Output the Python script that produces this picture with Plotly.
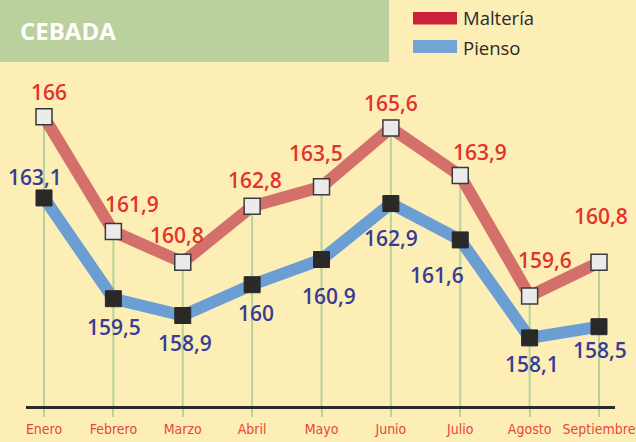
import plotly.graph_objects as go

# ---- data ----
months = ["Enero", "Febrero", "Marzo", "Abril", "Mayo", "Junio", "Julio", "Agosto", "Septiembre"]
malteria = [166, 161.9, 160.8, 162.8, 163.5, 165.6, 163.9, 159.6, 160.8]
pienso = [163.1, 159.5, 158.9, 160, 160.9, 162.9, 161.6, 158.1, 158.5]
series_names = ["Maltería", "Pienso"]
title_text = "CEBADA"

# ---- label placement (pixel offsets from each marker) ----
malt_off = [(5, -25), (19, -28), (-6, -27), (3, -26), (-6, -34), (0, -25), (20, -24), (15, -36), (2, -46)]
pienso_off = [(-9, -21), (1, 28), (2, 27), (4, 28), (7, 36), (0, 34), (-23, 35), (2, 26), (1, 23)]

W, H = 636, 442
ML, MR, MT, MB = 26, 21, 0, 36
BG = "#fdeeb6"
GREEN = "#bbd19d"
GRID = "#b5d39a"
MALT_LINE = "#d4706a"
PIENSO_LINE = "#6b9fd3"
MALT_TXT = "#e2332e"
PIENSO_TXT = "#383c95"
TICK_TXT = "#e8453c"

pw, ph = W - ML - MR, H - MT - MB


def px(x):
    return (x - ML) / pw


def py(y):
    return (H - MB - y) / ph


def fmt(v):
    return f"{v:g}".replace(".", ",")


fig = go.Figure()

# vertical guide lines from the upper marker down to the axis
ymin = 155.667
gx, gy = [], []
for m, a, b in zip(months, malteria, pienso):
    gx += [m, m, None]
    gy += [max(a, b), ymin, None]
fig.add_trace(go.Scatter(x=gx, y=gy, mode="lines", line=dict(color=GRID, width=2),
                         hoverinfo="skip", showlegend=False))

fig.add_trace(go.Scatter(
    x=months, y=pienso, mode="lines+markers", name=series_names[1],
    line=dict(color=PIENSO_LINE, width=12),
    marker=dict(symbol="square", size=16, color="#2b2828", line=dict(color="#2b2828", width=1)),
    showlegend=False))
fig.add_trace(go.Scatter(
    x=months, y=malteria, mode="lines+markers", name=series_names[0],
    line=dict(color=MALT_LINE, width=12),
    marker=dict(symbol="square", size=16, color="#ebebeb", line=dict(color="#3a3a3a", width=1.5)),
    showlegend=False))

annotations = []
for m, v, (dx, dy) in zip(months, malteria, malt_off):
    annotations.append(dict(x=m, y=v, xref="x", yref="y", text=fmt(v), showarrow=False,
                            xshift=dx, yshift=-dy, xanchor="center", yanchor="middle",
                            font=dict(family="Open Sans", size=21, weight=600, color=MALT_TXT)))
for m, v, (dx, dy) in zip(months, pienso, pienso_off):
    annotations.append(dict(x=m, y=v, xref="x", yref="y", text=fmt(v), showarrow=False,
                            xshift=dx, yshift=-dy, xanchor="center", yanchor="middle",
                            font=dict(family="Open Sans", size=21, weight=600, color=PIENSO_TXT)))

# header title
annotations.append(dict(x=px(18), y=py(31), xref="paper", yref="paper", text=f"<b>{title_text}</b>",
                        showarrow=False, xanchor="left", yanchor="middle",
                        font=dict(family="Open Sans", size=24, color="white")))
# legend texts
annotations.append(dict(x=px(461), y=py(18), xref="paper", yref="paper", text=series_names[0],
                        showarrow=False, xanchor="left", yanchor="middle",
                        font=dict(family="Open Sans", size=18.5, color="#2a2a2a")))
annotations.append(dict(x=px(461), y=py(47), xref="paper", yref="paper", text=series_names[1],
                        showarrow=False, xanchor="left", yanchor="middle",
                        font=dict(family="Open Sans", size=18.5, color="#2a2a2a")))

shapes = [
    dict(type="rect", xref="paper", yref="paper", x0=px(0), x1=px(389), y0=py(62), y1=py(0),
         fillcolor=GREEN, line=dict(width=0), layer="below"),
    dict(type="rect", xref="paper", yref="paper", x0=px(413), x1=px(457), y0=py(24.5), y1=py(12),
         fillcolor="#cc2239", line=dict(width=0)),
    dict(type="rect", xref="paper", yref="paper", x0=px(413), x1=px(457), y0=py(53), y1=py(40),
         fillcolor="#74a3d6", line=dict(width=0)),
]

fig.update_layout(
    width=W, height=H,
    margin=dict(l=ML, r=MR, t=MT, b=MB, pad=0, autoexpand=False),
    paper_bgcolor=BG, plot_bgcolor=BG,
    showlegend=False,
    annotations=annotations,
    shapes=shapes,
    xaxis=dict(type="category", range=[-0.2595, 8.2306], showgrid=False, zeroline=False,
               automargin=False, tickangle=0,
               tickmode="array", tickvals=months, ticktext=months,
               showline=True, linecolor="#2b2b2b", linewidth=2.5,
               ticks="outside", ticklen=8, tickwidth=2, tickcolor=GRID,
               tickfont=dict(family="Liberation Sans Narrow, DejaVu Sans Condensed, Liberation Sans, sans-serif",
                             size=14, color=TICK_TXT)),
    yaxis=dict(range=[ymin, 170.172], showgrid=False, zeroline=False, showticklabels=False,
               showline=False, ticks="", automargin=False),
)

fig.write_html("out.html", config={"displayModeBar": False},
               post_script="document.body.style.margin='0';document.body.style.padding='0';"
                           "document.body.style.background='" + BG + "';")
